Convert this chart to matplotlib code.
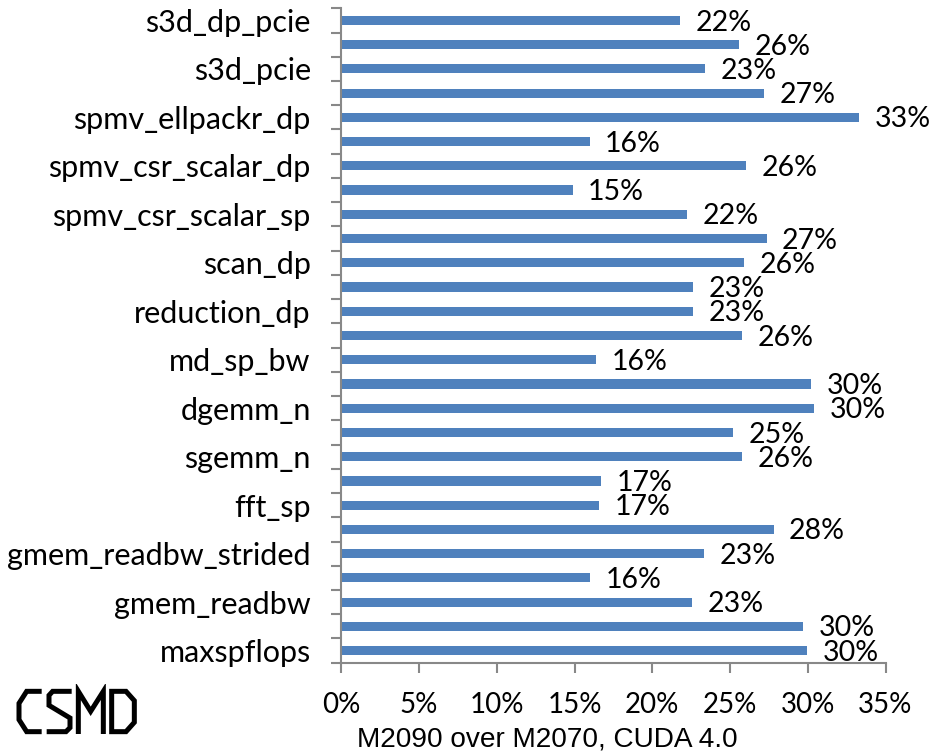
import matplotlib
matplotlib.use("Agg")
import matplotlib.pyplot as plt
from matplotlib.patches import Polygon

plt.rcParams["font.family"] = ["Lato", "DejaVu Sans"]

# Benchmarks from bottom to top; the axis only prints every other name.
benchmarks = [
    "maxspflops", "maxdpflops",
    "gmem_readbw", "gmem_writebw",
    "gmem_readbw_strided", "gmem_writebw_strided",
    "fft_sp", "fft_dp",
    "sgemm_n", "sgemm_t",
    "dgemm_n", "dgemm_t",
    "md_sp_bw", "md_dp_bw",
    "reduction_dp", "scan",
    "scan_dp", "sort",
    "spmv_csr_scalar_sp", "spmv_csr_vector_sp",
    "spmv_csr_scalar_dp", "spmv_csr_vector_dp",
    "spmv_ellpackr_dp", "s3d",
    "s3d_pcie", "s3d_dp",
    "s3d_dp_pcie",
]

# Speedup of M2090 over M2070, in percent
speedup = [
    29.97, 29.7,
    22.56, 16.0,
    23.3, 27.8,
    16.6, 16.7,
    25.8, 25.2,
    30.4, 30.2,
    16.4, 25.8,
    22.6, 22.6,
    25.93, 27.35,
    22.25, 14.88,
    26.06, 15.97,
    33.3, 27.2,
    23.4, 25.6,
    21.78,
]

x_ticks = [0, 5, 10, 15, 20, 25, 30, 35]
x_title = "M2090 over M2070, CUDA 4.0"

BAR_COLOR = "#4F81BD"
AXIS_COLOR = "#888888"

W, H = 933, 752
fig = plt.figure(figsize=(W / 100, H / 100), dpi=100)
ax = fig.add_axes([341.3 / W, 1 - 662.7 / H, 544.2 / W, 654.4 / H])

pos = list(range(len(benchmarks)))
ax.barh(pos, speedup, height=0.38, color=BAR_COLOR, zorder=2)

for y, v in zip(pos, speedup):
    ax.annotate(f"{v:.0f}%", (v, y), xytext=(11.2, -1.5),
                textcoords="offset points", ha="left", va="center",
                fontsize=20.5)

ax.set_xlim(x_ticks[0], x_ticks[-1])
ax.set_ylim(-0.5, len(benchmarks) - 0.5)

ax.set_xticks(x_ticks, [f"{t}%" for t in x_ticks])
ax.set_yticks(pos, [b if i % 2 == 0 else "" for i, b in enumerate(benchmarks)])
ax.set_yticks([p - 0.5 for p in pos] + [pos[-1] + 0.5], minor=True)

ax.tick_params(axis="x", length=7, width=1.5, color=AXIS_COLOR,
               pad=14, labelsize=20)
ax.tick_params(axis="y", which="major", length=0, pad=22,
               labelsize=22)
ax.tick_params(axis="y", which="minor", length=7, width=1.5,
               color=AXIS_COLOR)

for side in ("top", "right"):
    ax.spines[side].set_visible(False)
for side in ("left", "bottom"):
    ax.spines[side].set_color(AXIS_COLOR)
    ax.spines[side].set_linewidth(1.5)

fig.text(547 / W, 1 - 746 / H, x_title, ha="center", va="baseline",
         fontsize=20.2, family="Liberation Sans")

# CSMD logo, stroked letters in a small box of its own
logo = fig.add_axes([10 / W, 1 - 740 / H, 134 / W, 56 / H])
logo.set_xlim(0, 402)
logo.set_ylim(168, 0)
logo.axis("off")
stroke = dict(color="black", lw=3.6, solid_joinstyle="miter",
              solid_capstyle="butt")
letter_c = [(95, 22), (50, 22), (27, 58), (27, 107), (50, 143), (95, 143)]
letter_s = [(185, 22), (128, 22), (117, 34), (117, 64), (180, 102),
            (180, 131), (168, 143), (110, 143)]
letter_m = [(205, 150), (205, 22), (242, 82), (280, 22), (280, 150)]
letter_d = [(305, 22), (348, 22), (373, 50), (373, 115), (348, 143),
            (305, 143)]
for pts in (letter_c, letter_s, letter_m):
    xs, ys = zip(*pts)
    logo.plot(xs, ys, **stroke)
logo.add_patch(Polygon(letter_d, closed=True, fill=False, edgecolor="black",
                       lw=3.6, joinstyle="miter"))

fig.savefig("out.png", dpi=100)
